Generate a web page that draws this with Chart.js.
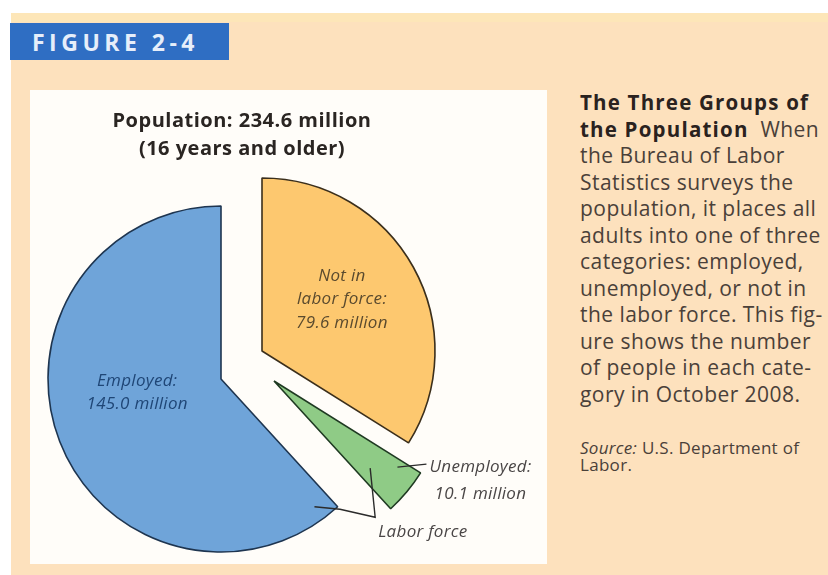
<!DOCTYPE html>
<html>
<head>
<meta charset="utf-8">
<script src="https://cdn.jsdelivr.net/npm/chart.js@4.4.1/dist/chart.umd.min.js"></script>
<style>
  html, body { margin: 0; padding: 0; }
  body { width: 828px; height: 575px; position: relative; overflow: hidden; background: #fff; font-family: 'Open Sans', sans-serif; }
  .page { position: absolute; left: 11px; top: 13px; right: 0; bottom: 0; background: #fde1bd; }
  .page-band { position: absolute; left: 11px; top: 13px; right: 0; height: 9px; background: #fde6b8; }
  .fig-tag { position: absolute; left: 10px; top: 23px; width: 219px; height: 37px; box-sizing: border-box; padding-left: 22px;
             background: #2f6ec3; color: #e6eefa; font-weight: 700; font-size: 23px; letter-spacing: 4.5px; line-height: 38px; }
  .panel { position: absolute; left: 30px; top: 90px; width: 517px; height: 474px; background: #fffdf9; }
  .panel canvas { position: absolute; left: 0; top: 0; }
  .pie-title { position: absolute; left: 30px; top: 106px; width: 424px; text-align: center; font-weight: 700; font-size: 20px;
               letter-spacing: 0.5px; line-height: 28px; color: #2a2522; }
  .caption { position: absolute; left: 580px; top: 89px; width: 248px; font-size: 21px; line-height: 26.5px; letter-spacing: 0.45px;
             color: #4a4039; white-space: nowrap; }
  .caption b { color: #2a221e; font-size: 20.5px; letter-spacing: 1.2px; }
  .source { position: absolute; left: 580px; top: 439px; font-size: 17px; line-height: 17px; letter-spacing: 0.3px; color: #4a4039; white-space: nowrap; }
</style>
</head>
<body>
<div class="page"></div>
<div class="page-band"></div>
<div class="fig-tag">FIGURE 2-4</div>
<div class="panel">
  <canvas id="pieEmployed" width="517" height="474"></canvas>
  <canvas id="pieNotInLF" width="517" height="474"></canvas>
  <canvas id="pieUnemployed" width="517" height="474"></canvas>
</div>
<div class="pie-title">Population: 234.6 million<br>(16 years and older)</div>
<div class="caption">
  <b>The Three Groups of</b><br>
  <b>the Population</b>&nbsp; When<br>
  the Bureau of Labor<br>
  Statistics surveys the<br>
  population, it places all<br>
  adults into one of three<br>
  categories: employed,<br>
  unemployed, or not in<br>
  the labor force. This fig-<br>
  ure shows the number<br>
  of people in each cate-<br>
  gory in October 2008.
</div>
<div class="source"><i>Source:</i> U.S. Department of<br>Labor.</div>

<script>
// millions of people, 16 years and older, October 2008
const categories = ['Not in labor force', 'Unemployed', 'Employed'];
const millions = [79.6, 10.1, 145.0];
const labelLines = [
    ['Not in', 'labor force:', '79.6 million'],
    ['Unemployed:', '10.1 million'],
    ['Employed:', '145.0 million']
];

const fills = ['#fdc86f', '#8fcb86', '#6fa4d9'];
const strokes = ['#3b2f1c', '#1f3a22', '#1e3550'];
const textColors = ['#5a4a2e', '#4a4646', '#1f4676'];

// exploded layout: each slice gets its own centre inside the panel
const sliceCentres = [[232, 261], [244, 291], [191, 289]];
const RADIUS = 173;
const W = 517, H = 474;

function pointOnArc(arc, angleFrac, radiusFrac) {
    const a = arc.startAngle + (arc.endAngle - arc.startAngle) * angleFrac;
    const r = arc.outerRadius * radiusFrac;
    return { x: arc.x + Math.cos(a) * r, y: arc.y + Math.sin(a) * r };
}

function paddingFor(cx, cy) {
    return {
        left: Math.max(2 * cx - W, 0),
        right: Math.max(W - 2 * cx, 0),
        top: Math.max(2 * cy - H, 0),
        bottom: Math.max(H - 2 * cy, 0)
    };
}

function drawLines(ctx, lines, x, y, gap) {
    lines.forEach((t, i) => ctx.fillText(t, x, y + i * gap));
}

const sliceLabels = {
    id: 'sliceLabels',
    afterDraw(chart, args, opts) {
        const ctx = chart.ctx;
        const k = opts.index;
        const arc = chart.getDatasetMeta(0).data[k];
        ctx.save();
        ctx.font = 'italic 17px "Open Sans"';
        ctx.letterSpacing = '0.3px';
        ctx.fillStyle = textColors[k];
        ctx.textAlign = 'center';
        ctx.textBaseline = 'middle';

        if (k === 0) {
            const p = pointOnArc(arc, 0.468, 0.55);
            drawLines(ctx, labelLines[0], p.x, p.y - 23.5, 23.5);
        } else if (k === 2) {
            const p = pointOnArc(arc, 0.556, 0.49);
            drawLines(ctx, labelLines[2], p.x, p.y - 11, 23);
        } else {
            // leader line to the unemployed label
            const s = pointOnArc(arc, 0.18, 0.87);
            const e = { x: s.x + 29, y: s.y - 3 };
            ctx.strokeStyle = '#2b2b2b';
            ctx.lineWidth = 1.4;
            ctx.beginPath();
            ctx.moveTo(s.x, s.y);
            ctx.lineTo(e.x, e.y);
            ctx.stroke();
            drawLines(ctx, labelLines[1], e.x + 54, e.y + 3, 27);

            // bracket joining employed and unemployed into the labor force
            const emp = employedChart.getDatasetMeta(0).data[2];
            const p1 = pointOnArc(emp, 0.028, 0.915);
            const p2 = pointOnArc(emp, 0, 1.02);
            const p4 = pointOnArc(arc, 0.65, 0.75);
            const p3 = { x: p4.x + 5, y: p2.y + 8 };
            ctx.beginPath();
            ctx.moveTo(p1.x, p1.y);
            ctx.lineTo(p2.x, p2.y);
            ctx.lineTo(p3.x, p3.y);
            ctx.lineTo(p4.x, p4.y);
            ctx.stroke();
            ctx.textAlign = 'left';
            ctx.fillText('Labor force', p3.x + 3, p3.y + 15);
        }
        ctx.restore();
    }
};

function makeSlice(canvasId, k) {
    const [cx, cy] = sliceCentres[k];
    return new Chart(document.getElementById(canvasId), {
        type: 'pie',
        data: {
            labels: categories,
            datasets: [{
                data: millions,
                backgroundColor: fills.map((c, i) => i === k ? c : 'rgba(0,0,0,0)'),
                borderColor: strokes.map((c, i) => i === k ? c : 'rgba(0,0,0,0)'),
                borderWidth: 1.6,
                radius: RADIUS
            }]
        },
        options: {
            responsive: false,
            animation: false,
            events: [],
            layout: { padding: paddingFor(cx, cy) },
            plugins: {
                legend: { display: false },
                tooltip: { enabled: false },
                sliceLabels: { index: k }
            }
        },
        plugins: [sliceLabels]
    });
}

const employedChart = makeSlice('pieEmployed', 2);
const notInLFChart = makeSlice('pieNotInLF', 0);
const unemployedChart = makeSlice('pieUnemployed', 1);
</script>
</body>
</html>
